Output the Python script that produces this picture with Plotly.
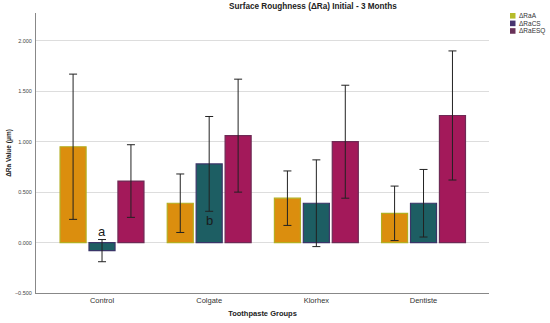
import plotly.graph_objects as go

groups = ["Control", "Colgate", "Klorhex", "Dentiste"]
series_names = ["ΔRaA", "ΔRaCS", "ΔRaESQ"]
ra_a = [0.95, 0.39, 0.44, 0.29]
ra_a_err = [0.72, 0.29, 0.27, 0.27]
ra_cs = [-0.08, 0.78, 0.39, 0.39]
ra_cs_err = [0.11, 0.47, 0.43, 0.335]
ra_esq = [0.61, 1.06, 1.00, 1.26]
ra_esq_err = [0.36, 0.56, 0.56, 0.64]
y_ticks = [-0.5, 0.0, 0.5, 1.0, 1.5, 2.0]
letters = [("a", "Control", 0.11), ("b", "Colgate", 0.22)]

fills = ["#DB8E0E", "#1D5E63", "#A3195A"]
edges = ["#B3AE22", "#3A3568", "#6E2A55"]
legend_colors = ["#B6BC2A", "#47336F", "#693058"]

fig = go.Figure()
for name, vals, errs, fc, ec in zip(series_names, [ra_a, ra_cs, ra_esq],
                                     [ra_a_err, ra_cs_err, ra_esq_err], fills, edges):
    fig.add_trace(go.Bar(
        x=groups, y=vals, name=name,
        marker=dict(color=fc, line=dict(color=ec, width=1.2)),
        error_y=dict(type="data", array=errs, visible=True, color="#222222",
                     thickness=1, width=4),
        showlegend=False,
    ))

for txt, g, yv in letters:
    fig.add_annotation(x=g, y=yv, text=txt, showarrow=False, xref="x", yref="y",
                       font=dict(size=13, color="#1a1a1a", family="Arial, Liberation Sans"))

# manual compact legend
for i, (nm, c) in enumerate(zip(series_names, legend_colors)):
    yc = 15.5 + i * 7.6
    fig.add_shape(type="rect", xref="paper", yref="paper",
                  x0=(510 - 36) / 453, x1=(515.5 - 36) / 453,
                  y0=(293.3 - (yc + 2.8)) / 280.6, y1=(293.3 - (yc - 2.8)) / 280.6,
                  fillcolor=c, line=dict(width=0))
    fig.add_annotation(xref="paper", yref="paper", x=(517 - 36) / 453,
                       y=(293.3 - yc) / 280.6, text=nm, showarrow=False,
                       xanchor="left", yanchor="middle",
                       font=dict(size=6.5, color="#333333", family="Arial, Liberation Sans"))

fig.add_annotation(xref="paper", yref="paper", x=(313 - 36) / 453, y=(293.3 - 6) / 280.6,
                   text="<b>Surface Roughness (ΔRa) Initial - 3 Months</b>", showarrow=False,
                   xanchor="center", yanchor="middle",
                   font=dict(size=8.2, color="#222222", family="Arial, Liberation Sans"))

fig.update_layout(
    width=550, height=323,
    margin=dict(l=36, r=61, t=12.7, b=29.7),
    paper_bgcolor="white", plot_bgcolor="white",
    barmode="group", bargap=0.19, bargroupgap=0.1,
    font=dict(family="Arial, Liberation Sans", size=6.5, color="#333333"),
    xaxis=dict(range=[-0.616, 3.611], showgrid=False, showline=True, linecolor="#888888",
               linewidth=1, ticks="", automargin=False,
               tickfont=dict(size=7.5, color="#333333"),
               title=dict(text="<b>Toothpaste Groups</b>", standoff=6,
                          font=dict(size=7.5, color="#222222"))),
    yaxis=dict(range=[-0.5, 2.276], tickvals=y_ticks, tickformat=".3f", automargin=False,
               showgrid=True, gridcolor="#DDDDDD", gridwidth=1, zeroline=False,
               showline=True, linecolor="#888888", linewidth=1,
               ticks="outside", ticklen=2, tickcolor="rgba(0,0,0,0)",
               tickfont=dict(size=5.5, color="#444444"),
               title=dict(text="<b>ΔRa Value (μm)</b>", standoff=2,
                          font=dict(size=6.5, color="#222222"))),
)

fig.write_html("out.html", config={"displayModeBar": False},
               post_script="document.body.style.margin='0';document.body.style.overflow='hidden';")
